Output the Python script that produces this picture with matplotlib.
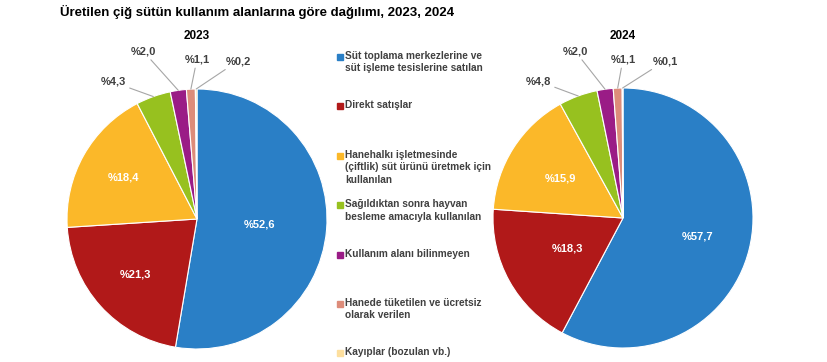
import matplotlib.pyplot as plt
import numpy as np

plt.rcParams['font.family'] = ['Liberation Sans', 'DejaVu Sans']

title = 'Üretilen çiğ sütün kullanım alanlarına göre dağılımı, 2023, 2024'
years = ['2023', '2024']
categories = [
    'Süt toplama merkezlerine ve\nsüt işleme tesislerine satılan',
    'Direkt satışlar',
    'Hanehalkı işletmesinde\n(çiftlik) süt ürünü üretmek için\nkullanılan',
    'Sağıldıktan sonra hayvan\nbesleme amacıyla kullanılan',
    'Kullanım alanı bilinmeyen',
    'Hanede tüketilen ve ücretsiz\nolarak verilen',
    'Kayıplar (bozulan vb.)',
]
shares_2023 = [52.6, 21.3, 18.4, 4.3, 2.0, 1.1, 0.2]
shares_2024 = [57.7, 18.3, 15.9, 4.8, 2.0, 1.1, 0.1]
colors = ['#2A7FC6', '#B11919', '#FBB829', '#97C11F', '#9A1C86', '#DD8C7A', '#FDDF9E']

W, H = 827, 362
centers = [(197, 219), (623, 218)]
radius = 130
# where the big-slice labels sit, as a share of the radius
inner_pos = [[0.48, 0.64, 0.65], [0.59, 0.49, 0.57]]
# small-slice labels, pixel offset from the pie centre (y down)
outer_pos = [[(-84, -137), (-54, -168), (0, -160), (41, -158)],
             [(-85, -137), (-48, -167), (0, -159), (42, -157)]]

txt_col = '#404040'
line_col = '#A6A6A6'


def fmt(v):
    return '%' + f'{v:.1f}'.replace('.', ',')


fig = plt.figure(figsize=(W / 100, H / 100), dpi=100)
ax = fig.add_axes([0, 0, 1, 1])

for k, vals in enumerate([shares_2023, shares_2024]):
    cx, cy = centers[k]
    cy = H - cy
    wedges, _ = ax.pie(vals, colors=colors, startangle=90, counterclock=False,
                       center=(cx, cy), radius=radius,
                       wedgeprops=dict(edgecolor='white', linewidth=0.8))
    for i, w in enumerate(wedges):
        mid = np.deg2rad((w.theta1 + w.theta2) / 2)
        if i < 3:
            f = inner_pos[k][i] * radius
            ax.text(cx + f * np.cos(mid), cy + f * np.sin(mid), fmt(vals[i]),
                    color='white', fontsize=8, fontweight='bold',
                    ha='center', va='center')
        else:
            dx, dy = outer_pos[k][i - 3]
            ax.annotate(fmt(vals[i]),
                        xy=(cx + radius * np.cos(mid), cy + radius * np.sin(mid)),
                        xytext=(cx + dx, cy - dy),
                        color=txt_col, fontsize=8, fontweight='bold',
                        ha='center', va='center',
                        arrowprops=dict(arrowstyle='-', color=line_col, lw=0.8,
                                        shrinkA=1, shrinkB=0))
    ax.text(cx, H - 36, years[k], fontsize=8.5, fontweight='bold',
            ha='center', va='center')

# legend, drawn by hand so entries line up by first line
for i, (lab, c) in enumerate(zip(categories, colors)):
    y = H - (57 + i * 49.4)
    ax.plot(340, y, marker='s', ms=4, color=c, ls='none')
    ax.text(345, y + 6, lab, fontsize=7.3, fontweight='bold', color=txt_col,
            ha='left', va='top', linespacing=1.3)

ax.text(60, H - 12, title, fontsize=9.5, fontweight='bold',
        ha='left', va='center')

ax.set_xlim(0, W)
ax.set_ylim(0, H)
ax.axis('off')

fig.savefig('out.png', dpi=100)
